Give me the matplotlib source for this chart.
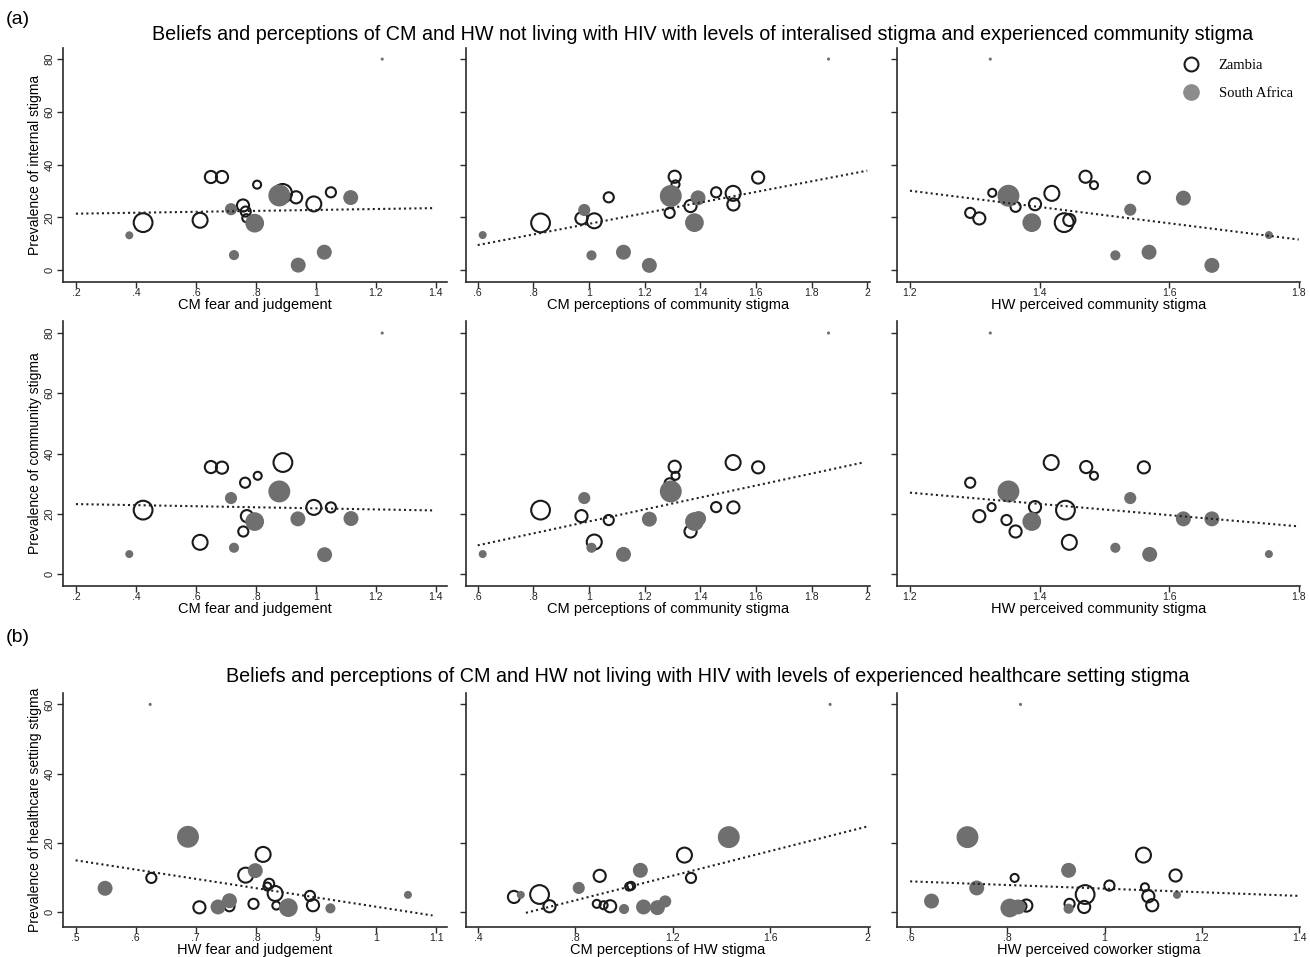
import matplotlib
matplotlib.use('Agg')
import matplotlib.pyplot as plt
from matplotlib.lines import Line2D
from matplotlib.ticker import FuncFormatter
import numpy as np

plt.rcParams['font.family'] = ['Liberation Sans', 'DejaVu Sans']

# relative community weights (bubble area)
S, SM, M, ML, L, VL = 1.0, 1.6, 2.3, 3.5, 5.5, 7.5

# ---- (a) row 1: internalised stigma ----
p11_zam_x = [0.424, 0.614, 0.650, 0.687, 0.757, 0.766, 0.768, 0.804, 0.889, 0.934, 0.993, 1.050]
p11_zam_y = [18.0, 18.9, 35.3, 35.3, 24.5, 22.2, 19.7, 32.4, 29.1, 27.6, 25.1, 29.5]
p11_zam_w = [L, ML, M, M, M, SM, S, S, L, M, ML, SM]
p11_sa_x = [0.378, 0.717, 0.727, 0.796, 0.878, 0.941, 1.028, 1.116]
p11_sa_y = [13.2, 23.1, 5.7, 17.8, 28.3, 1.9, 6.8, 27.5]
p11_sa_w = [S, M, SM, L, VL, ML, ML, ML]
p11_fit = ([0.2, 1.39], [21.4, 23.5])
p11_dot = (1.221, 80)

p12_zam_x = [0.826, 0.973, 1.019, 1.071, 1.290, 1.308, 1.311, 1.365, 1.457, 1.518, 1.519, 1.608]
p12_zam_y = [17.9, 19.6, 18.7, 27.6, 21.7, 35.4, 32.5, 24.3, 29.5, 29.1, 24.9, 35.1]
p12_zam_w = [L, M, ML, SM, SM, M, S, M, SM, ML, M, M]
p12_sa_x = [0.618, 0.983, 1.009, 1.124, 1.217, 1.294, 1.379, 1.392]
p12_sa_y = [13.3, 22.8, 5.6, 6.8, 1.8, 28.1, 18.0, 27.4]
p12_sa_w = [S, M, SM, ML, ML, VL, L, ML]
p12_fit = ([0.6, 2.0], [9.5, 37.7])
p12_dot = (1.861, 80)

p13_zam_x = [1.293, 1.307, 1.327, 1.363, 1.393, 1.419, 1.438, 1.446, 1.471, 1.484, 1.561]
p13_zam_y = [21.7, 19.6, 29.3, 24.0, 25.0, 29.1, 18.0, 19.0, 35.4, 32.2, 35.1]
p13_zam_w = [SM, M, S, SM, M, ML, L, M, M, S, M]
p13_sa_x = [1.352, 1.388, 1.517, 1.540, 1.569, 1.622, 1.666, 1.754]
p13_sa_y = [28.2, 18.0, 5.6, 22.9, 6.8, 27.3, 1.8, 13.3]
p13_sa_w = [VL, L, SM, M, ML, ML, ML, S]
p13_fit = ([1.2, 1.8], [30.1, 11.6])
p13_dot = (1.324, 80)

# ---- (a) row 2: experienced community stigma ----
p21_zam_x = [0.424, 0.614, 0.650, 0.687, 0.764, 0.806, 0.890, 0.770, 0.758, 0.993, 1.050]
p21_zam_y = [21.2, 10.5, 35.5, 35.3, 30.3, 32.6, 37.0, 19.2, 14.1, 22.1, 22.1]
p21_zam_w = [L, ML, M, M, SM, S, L, M, SM, ML, SM]
p21_sa_x = [0.378, 0.717, 0.727, 0.796, 0.878, 0.940, 1.029, 1.117]
p21_sa_y = [6.6, 25.2, 8.7, 17.4, 27.4, 18.3, 6.4, 18.4]
p21_sa_w = [S, M, SM, L, VL, ML, ML, ML]
p21_fit = ([0.2, 1.39], [23.2, 21.1])
p21_dot = (1.221, 80)

p22_zam_x = [0.826, 0.973, 1.019, 1.071, 1.290, 1.308, 1.311, 1.365, 1.457, 1.518, 1.519, 1.608]
p22_zam_y = [21.2, 19.2, 10.6, 17.9, 30.1, 35.6, 32.6, 14.1, 22.2, 37.0, 22.1, 35.4]
p22_zam_w = [L, M, ML, SM, SM, M, S, M, SM, ML, M, M]
p22_sa_x = [0.618, 0.983, 1.009, 1.124, 1.217, 1.294, 1.379, 1.394]
p22_sa_y = [6.6, 25.2, 8.7, 6.5, 18.2, 27.4, 17.4, 18.4]
p22_sa_w = [S, M, SM, ML, ML, VL, L, ML]
p22_fit = ([0.6, 1.99], [9.5, 37.1])
p22_dot = (1.861, 80)

p23_zam_x = [1.293, 1.307, 1.326, 1.349, 1.363, 1.393, 1.418, 1.440, 1.446, 1.472, 1.484, 1.561]
p23_zam_y = [30.3, 19.2, 22.2, 17.9, 14.1, 22.2, 37.0, 21.2, 10.5, 35.5, 32.6, 35.4]
p23_zam_w = [SM, M, S, SM, M, M, ML, L, ML, M, S, M]
p23_sa_x = [1.352, 1.388, 1.517, 1.540, 1.570, 1.622, 1.666, 1.754]
p23_sa_y = [27.4, 17.4, 8.7, 25.2, 6.5, 18.3, 18.3, 6.6]
p23_sa_w = [VL, L, SM, M, ML, ML, ML, S]
p23_fit = ([1.2, 1.8], [27.0, 15.8])
p23_dot = (1.324, 80)

# ---- (b) healthcare setting stigma ----
p31_zam_x = [0.626, 0.706, 0.756, 0.783, 0.796, 0.812, 0.822, 0.819, 0.832, 0.834, 0.890, 0.895]
p31_zam_y = [9.8, 1.3, 1.6, 10.6, 2.3, 16.6, 8.1, 7.3, 5.3, 1.8, 4.6, 1.9]
p31_zam_w = [SM, M, SM, ML, SM, ML, SM, S, ML, S, SM, M]
p31_sa_x = [0.549, 0.687, 0.737, 0.756, 0.799, 0.854, 0.924, 1.053]
p31_sa_y = [6.8, 21.7, 1.4, 3.2, 11.9, 1.2, 1.0, 4.9]
p31_sa_w = [ML, VL, ML, ML, ML, L, SM, S]
p31_fit = ([0.5, 1.094], [14.9, -1.06])
p31_dot = (0.624, 60)

p32_zam_x = [0.548, 0.653, 0.694, 0.900, 0.888, 0.916, 0.943, 1.029, 1.021, 1.248, 1.275]
p32_zam_y = [4.3, 5.0, 1.6, 10.4, 2.3, 1.9, 1.6, 7.5, 7.3, 16.4, 9.8]
p32_zam_w = [M, L, M, M, S, S, M, S, S, ML, SM]
p32_sa_x = [0.576, 0.814, 1.000, 1.067, 1.080, 1.137, 1.169, 1.430]
p32_sa_y = [4.9, 6.9, 0.8, 12.0, 1.4, 1.2, 3.0, 21.6]
p32_sa_w = [S, M, SM, ML, ML, ML, M, VL]
p32_fit = ([0.597, 2.0], [-0.3, 24.7])
p32_dot = (1.846, 60)

p33_zam_x = [0.815, 0.829, 0.839, 0.928, 0.958, 0.960, 1.010, 1.080, 1.083, 1.090, 1.098, 1.146]
p33_zam_y = [9.8, 1.6, 1.8, 2.3, 1.4, 5.0, 7.6, 16.4, 7.1, 4.5, 1.9, 10.5]
p33_zam_w = [S, SM, M, SM, M, L, SM, ML, S, M, M, M]
p33_sa_x = [0.644, 0.718, 0.737, 0.805, 0.822, 0.926, 0.926, 1.149]
p33_sa_y = [3.1, 21.6, 6.9, 1.1, 1.4, 12.0, 0.9, 4.9]
p33_sa_w = [ML, VL, ML, L, ML, ML, SM, S]
p33_fit = ([0.6, 1.4], [8.8, 4.6])
p33_dot = (0.827, 60)

xlabels = [
    ['CM fear and judgement', 'CM perceptions of community stigma', 'HW perceived community stigma'],
    ['CM fear and judgement', 'CM perceptions of community stigma', 'HW perceived community stigma'],
    ['HW fear and judgement', 'CM perceptions of HW stigma', 'HW perceived coworker stigma'],
]
ylabels = ['Prevalence of internal stigma', 'Prevalence of community stigma',
           'Prevalence of healthcare setting stigma']

panels = [
    [(p11_zam_x, p11_zam_y, p11_zam_w, p11_sa_x, p11_sa_y, p11_sa_w, p11_fit, p11_dot),
     (p12_zam_x, p12_zam_y, p12_zam_w, p12_sa_x, p12_sa_y, p12_sa_w, p12_fit, p12_dot),
     (p13_zam_x, p13_zam_y, p13_zam_w, p13_sa_x, p13_sa_y, p13_sa_w, p13_fit, p13_dot)],
    [(p21_zam_x, p21_zam_y, p21_zam_w, p21_sa_x, p21_sa_y, p21_sa_w, p21_fit, p21_dot),
     (p22_zam_x, p22_zam_y, p22_zam_w, p22_sa_x, p22_sa_y, p22_sa_w, p22_fit, p22_dot),
     (p23_zam_x, p23_zam_y, p23_zam_w, p23_sa_x, p23_sa_y, p23_sa_w, p23_fit, p23_dot)],
    [(p31_zam_x, p31_zam_y, p31_zam_w, p31_sa_x, p31_sa_y, p31_sa_w, p31_fit, p31_dot),
     (p32_zam_x, p32_zam_y, p32_zam_w, p32_sa_x, p32_sa_y, p32_sa_w, p32_fit, p32_dot),
     (p33_zam_x, p33_zam_y, p33_zam_w, p33_sa_x, p33_sa_y, p33_sa_w, p33_fit, p33_dot)],
]

# axis ranges / ticks per panel
xlims = [[(0.157, 1.437), (0.558, 2.01), (1.18, 1.802)],
         [(0.157, 1.437), (0.558, 2.01), (1.18, 1.802)],
         [(0.479, 1.118), (0.351, 2.01), (0.573, 1.402)]]
xticks = [[np.arange(0.2, 1.41, 0.2), np.arange(0.6, 2.01, 0.2), np.arange(1.2, 1.81, 0.2)],
          [np.arange(0.2, 1.41, 0.2), np.arange(0.6, 2.01, 0.2), np.arange(1.2, 1.81, 0.2)],
          [np.arange(0.5, 1.11, 0.1), np.arange(0.4, 2.01, 0.4), np.arange(0.6, 1.41, 0.2)]]
ylims = [(-4.5, 84.2), (-4.0, 84.0), (-4.4, 63.3)]
yticks = [np.arange(0, 81, 20), np.arange(0, 81, 20), np.arange(0, 61, 20)]

W, H = 1310, 957
col_px = [(63, 447), (466, 870), (897, 1300)]
row_px = [(48, 282), (321, 586), (693, 927)]

GRAY = '#6f6f6f'
INK = '#2b2b2b'


def stata_fmt(v, pos):
    s = f'{v:g}'
    if s.startswith('0.'):
        s = s[1:]
    return s


def area(w):
    d_px = 8.0 * np.sqrt(np.asarray(w))
    return (d_px * 0.72) ** 2


fig = plt.figure(figsize=(W / 100, H / 100), dpi=100)

for r in range(3):
    for c in range(3):
        x0, x1 = col_px[c]
        y0, y1 = row_px[r]
        ax = fig.add_axes([x0 / W, 1 - y1 / H, (x1 - x0) / W, (y1 - y0) / H])
        zx, zy, zw, sx, sy, sw, fit, dot = panels[r][c]

        ax.scatter(zx, zy, s=area(zw), facecolors='none', edgecolors='#1a1a1a',
                   linewidths=1.5, zorder=2)
        ax.scatter(sx, sy, s=area(sw), color=GRAY, edgecolors='none', zorder=3)
        ax.scatter([dot[0]], [dot[1]], s=5, color=GRAY, edgecolors='none', zorder=3)
        ax.plot(fit[0], fit[1], linestyle=(0, (1, 1.5)), color='#222222', lw=1.5, zorder=4)

        ax.set_xlim(*xlims[r][c])
        ax.set_ylim(*ylims[r])
        ax.set_xticks(xticks[r][c])
        ax.set_yticks(yticks[r])
        ax.xaxis.set_major_formatter(FuncFormatter(stata_fmt))
        ax.yaxis.set_major_formatter(FuncFormatter(stata_fmt))

        for side in ['top', 'right']:
            ax.spines[side].set_visible(False)
        for side in ['left', 'bottom']:
            ax.spines[side].set_color(INK)
            ax.spines[side].set_linewidth(1.2)
        ax.tick_params(axis='both', direction='out', length=4, width=1.0,
                       color=INK, labelcolor='#222222')
        ax.tick_params(axis='x', labelsize=7.5, pad=0.5)
        ax.tick_params(axis='y', labelsize=8, pad=2, labelrotation=90)
        for t in ax.get_yticklabels():
            t.set_va('center')

        ax.set_xlabel(xlabels[r][c], fontsize=10.5, labelpad=0)
        if c == 0:
            ax.set_ylabel(ylabels[r], fontsize=10, labelpad=2)
        else:
            ax.tick_params(axis='y', labelleft=False)

        if r == 0 and c == 2:
            handles = [
                Line2D([], [], marker='o', ls='none', mfc='none', mec='#1a1a1a', mew=1.5, ms=10),
                Line2D([], [], marker='o', ls='none', mfc='#8c8c8c', mec='#8c8c8c', ms=11),
            ]
            ax.legend(handles, ['Zambia', 'South Africa'], loc='upper right',
                      bbox_to_anchor=(1.0, 0.985), frameon=False, borderpad=0,
                      handletextpad=0.9, labelspacing=1.0,
                      prop={'family': 'Liberation Serif', 'size': 10.5})

fig.text(6 / W, 1 - 20 / H, '(a)', fontsize=14, va='center', ha='left')
fig.text(703 / W, 1 - 34 / H,
         'Beliefs and perceptions of CM and HW not living with HIV with levels of '
         'interalised stigma and experienced community stigma',
         fontsize=14.2, va='center', ha='center')
fig.text(6 / W, 1 - 637 / H, '(b)', fontsize=14, va='center', ha='left')
fig.text(708 / W, 1 - 676 / H,
         'Beliefs and perceptions of CM and HW not living with HIV with levels of '
         'experienced healthcare setting stigma',
         fontsize=14.2, va='center', ha='center')

fig.savefig('out.png', dpi=100, facecolor='white')
